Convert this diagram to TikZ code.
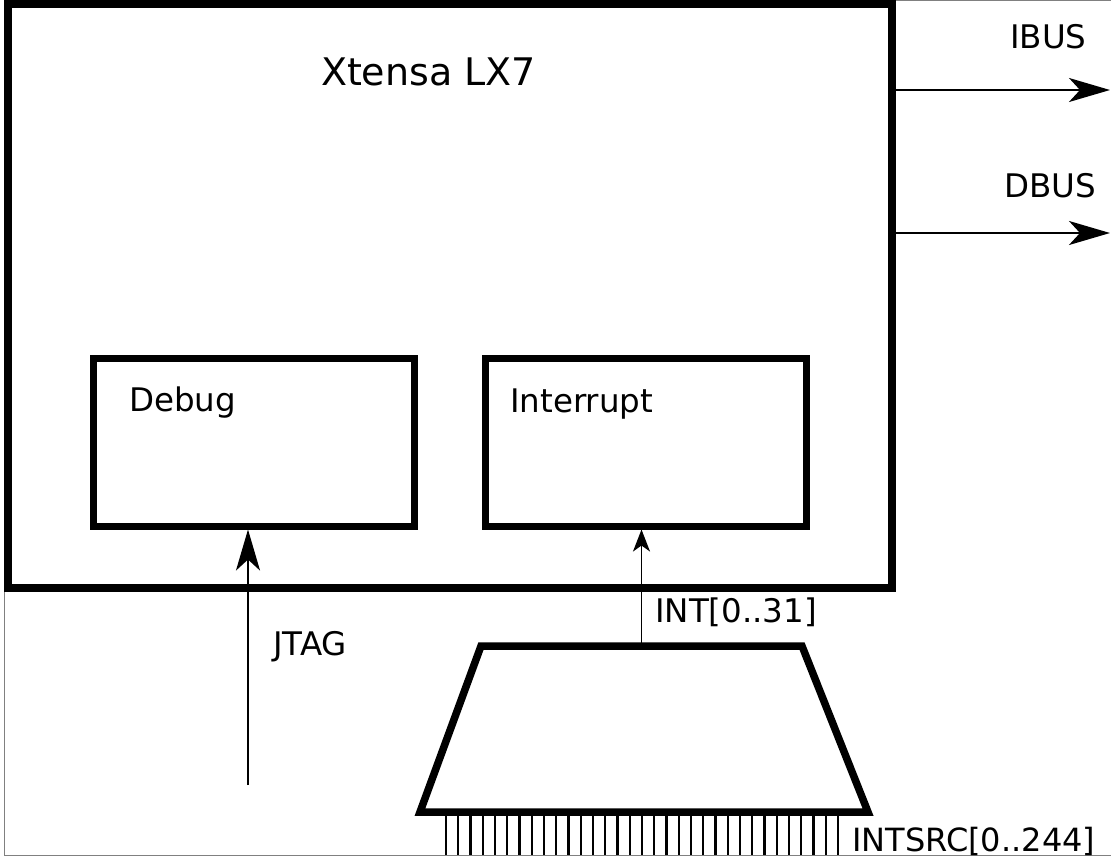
\documentclass[tikz,border=0pt]{standalone}
\usepackage{fontspec}
\setmainfont{DejaVu Sans}
\usetikzlibrary{arrows.meta,calc}
\tikzset{
  blk/.style={draw, line width=#1, rectangle, inner sep=0pt},
  lbl/.style={inner sep=0pt, anchor=base west, font=\fontsize{32.5}{32.5}\selectfont},
  bigtip/.style={-{Stealth[length=41pt,width=24pt,inset=11pt]}, line width=2.3pt},
  smalltip/.style={-{Stealth[length=22pt,width=17pt,inset=6pt]}, line width=1.7pt},
  comb/.style={line width=2.4pt},
}
\begin{document}
\begin{tikzpicture}[x=1pt,y=-1pt]
\useasboundingbox (0,0) rectangle (1111,857);
% thin frame
\draw[gray, line width=1pt] (1111,0.5) -- (4,0.5) -- (4,855) -- (1111,855);
% main block
\node[blk=8pt, minimum width=884pt, minimum height=584.5pt] (main) at (450,295.75) {};
\node[inner sep=0pt, anchor=base, font=\fontsize{38}{38}\selectfont] (title) at (428.5,85) {Xtensa LX7};
% inner blocks
\node[blk=7pt, minimum width=320.5pt, minimum height=167.5pt] (debug) at (253.75,442.25) {};
\node[lbl] (debuglbl) at (129,411) {Debug};
\node[blk=7pt, minimum width=320.5pt, minimum height=167.5pt] (interrupt) at (645.75,442.25) {};
\node[lbl] (interruptlbl) at (510,412) {Interrupt};
% buses
\coordinate (ibusend) at (1110,90);
\coordinate (dbusend) at (1110,233);
\draw[bigtip] (ibusend -| main.east) -- (ibusend);
\draw[bigtip] (dbusend -| main.east) -- (dbusend);
\node[lbl] (ibuslbl) at (1010,48) {IBUS};
\node[lbl] (dbuslbl) at (1004,197) {DBUS};
% JTAG
\coordinate (jtagstart) at (248,785);
\draw[bigtip] (jtagstart) -- (jtagstart |- debug.south);
\node[lbl] (jtaglbl) at (273,655) {JTAG};
% interrupt matrix (trapezoid)
\coordinate (mtl) at (481,646);
\coordinate (mtr) at (802,646);
\coordinate (mbr) at (868,812);
\coordinate (mbl) at (420,812);
\coordinate (muxtop) at (641.5,646);
\draw[line width=7.5pt, line join=miter] (mtl) -- (mtr) -- (mbr) -- (mbl) -- cycle;
\draw[smalltip] (muxtop) -- (muxtop |- interrupt.south);
\node[lbl] (intlbl) at (655,622) {INT[0..31]};
% INTSRC comb
\foreach \i in {0,...,32} {
  \draw[comb] (446+\i*12.25,816) -- (446+\i*12.25,855);
}
\node[lbl, font=\fontsize{32}{32}\selectfont] (intsrclbl) at (852,851) {INTSRC[0..244]};
\end{tikzpicture}
\end{document}
